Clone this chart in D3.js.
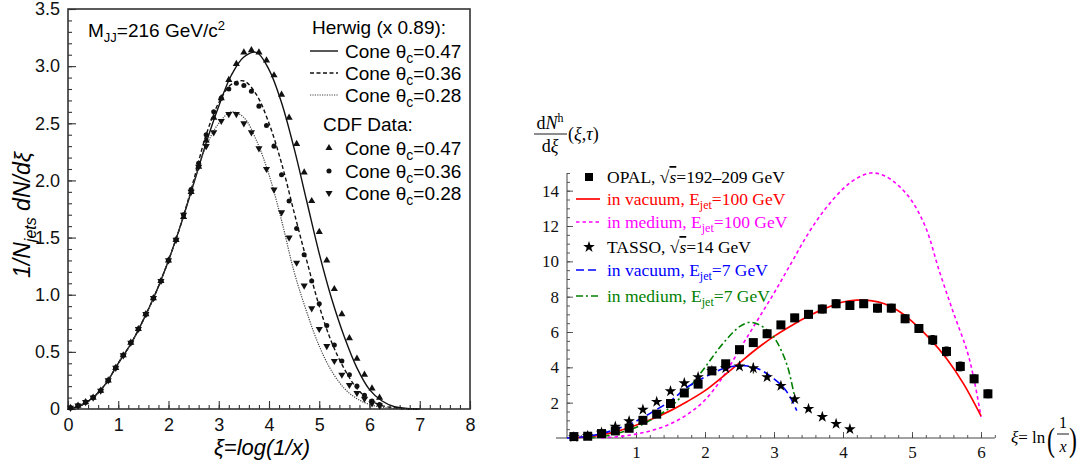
<!DOCTYPE html>
<html><head><meta charset="utf-8">
<script src="https://cdn.jsdelivr.net/npm/d3@7"></script>
<style>body{margin:0;background:#fff}svg{display:block}</style>
</head><body><svg id="c" width="1078" height="464"></svg>
<script>
// ================= LEFT PANEL DATA =================
const herwigXi = [0,0.25,0.5,0.75,1.0,1.25,1.5,1.75,2.0,2.25,2.5,2.75,3.0,3.25,3.5,3.75,4.0,4.25,4.5,4.75,5.0,5.25,5.5,5.75,6.0,6.25,6.5,6.75,7.0];
const herwig047 = [0,0.03,0.1,0.22,0.4,0.57,0.78,1.02,1.3,1.62,1.97,2.33,2.65,2.92,3.08,3.12,2.97,2.68,2.28,1.82,1.36,0.96,0.63,0.36,0.17,0.07,0.02,0.005,0];
const herwig036 = [0,0.03,0.1,0.22,0.4,0.57,0.78,1.02,1.3,1.62,2.0,2.4,2.68,2.84,2.87,2.75,2.5,2.15,1.72,1.3,0.9,0.58,0.35,0.18,0.08,0.03,0.01,0,0];
const herwig028 = [0,0.03,0.1,0.22,0.4,0.57,0.78,1.02,1.3,1.62,1.98,2.3,2.5,2.6,2.55,2.35,2.05,1.65,1.2,0.85,0.55,0.33,0.18,0.09,0.04,0.015,0.005,0,0];
const cdfXi = [0.05,0.2,0.35,0.5,0.65,0.8,0.95,1.1,1.25,1.4,1.55,1.7,1.85,2.0,2.15,2.3,2.45,2.6,2.75,2.9,3.05,3.2,3.35,3.5,3.65,3.8,3.95,4.1,4.25,4.4,4.55,4.7,4.85,5.0,5.15,5.3,5.45,5.6,5.75,5.9,6.05,6.2];
const cdf047 = [0.01,0.03,0.06,0.1,0.16,0.25,0.36,0.47,0.58,0.7,0.83,0.97,1.12,1.3,1.48,1.68,1.9,2.12,2.35,2.55,2.72,2.88,3.02,3.12,3.14,3.12,3.05,2.92,2.75,2.55,2.32,2.07,1.82,1.55,1.3,1.05,0.83,0.62,0.44,0.3,0.18,0.1];
const cdf036 = [0.01,0.03,0.06,0.1,0.16,0.25,0.36,0.47,0.58,0.7,0.83,0.97,1.12,1.3,1.48,1.7,1.92,2.15,2.4,2.6,2.72,2.8,2.85,2.83,2.78,2.65,2.48,2.3,2.05,1.82,1.58,1.35,1.12,0.92,0.73,0.56,0.42,0.3,0.2,0.12,0.07,0.04];
const cdf028 = [0.01,0.03,0.06,0.1,0.16,0.25,0.36,0.47,0.58,0.7,0.83,0.97,1.12,1.3,1.48,1.7,1.9,2.12,2.3,2.42,2.52,2.58,2.58,2.5,2.42,2.28,2.1,1.92,1.72,1.5,1.28,1.08,0.88,0.7,0.55,0.42,0.3,0.21,0.14,0.09,0.05,0.03];
const leftXTicks = [0,1,2,3,4,5,6,7,8];
const leftYTicks = [0,0.5,1,1.5,2,2.5,3,3.5];

// ================= RIGHT PANEL DATA =================
const opalXi = [0.1,0.3,0.5,0.7,0.9,1.1,1.3,1.5,1.7,1.9,2.1,2.3,2.5,2.7,2.9,3.1,3.3,3.5,3.7,3.9,4.1,4.3,4.5,4.7,4.9,5.1,5.3,5.5,5.7,5.9,6.1];
const opalVal = [0.08,0.1,0.25,0.4,0.55,1.0,1.35,1.95,2.55,3.05,3.8,4.2,5.0,5.4,5.9,6.4,6.8,7.0,7.3,7.6,7.5,7.6,7.35,7.35,6.75,6.2,5.55,4.9,4.05,3.35,2.5];
const opalErr = [0.05,0.05,0.07,0.08,0.1,0.12,0.12,0.14,0.15,0.15,0.17,0.18,0.18,0.18,0.2,0.2,0.2,0.22,0.22,0.22,0.22,0.2,0.22,0.22,0.22,0.22,0.25,0.25,0.25,0.22,0.22];
const tassoXi = [0.1,0.3,0.5,0.7,0.9,1.1,1.3,1.5,1.7,1.9,2.1,2.3,2.5,2.7,2.9,3.1,3.3,3.5,3.7,3.9,4.1];
const tassoVal = [0.05,0.12,0.3,0.65,0.95,1.6,2.05,2.65,3.1,3.45,3.8,3.95,4.05,3.95,3.45,2.95,2.2,1.65,1.2,0.8,0.5];
const tassoErr = [0.03,0.05,0.06,0.08,0.1,0.1,0.1,0.12,0.12,0.12,0.12,0.15,0.15,0.3,0.12,0.12,0.12,0.08,0.06,0.05,0.04];
const vac100Xi = [0.1,0.3,0.5,0.75,1.0,1.25,1.5,1.75,2.0,2.25,2.5,2.75,3.0,3.25,3.5,3.75,4.0,4.2,4.4,4.6,4.8,5.0,5.25,5.5,5.75,6.0];
const vac100 = [0.02,0.07,0.17,0.4,0.72,1.1,1.55,2.08,2.68,3.45,4.25,5.05,5.75,6.35,6.9,7.35,7.7,7.8,7.78,7.6,7.2,6.6,5.65,4.5,3.05,1.25];
const med100Xi = [0.5,0.75,1.0,1.25,1.5,1.75,2.0,2.25,2.5,2.75,3.0,3.25,3.5,3.75,4.0,4.2,4.4,4.6,4.8,5.0,5.2,5.4,5.6,5.8,5.9,6.0];
const med100 = [0.0,0.08,0.22,0.45,0.8,1.35,2.15,3.4,5.0,6.6,8.2,9.9,11.6,13.0,14.1,14.7,15.0,14.85,14.3,13.4,11.9,9.4,7.1,4.9,3.3,1.2];
const vac7Xi = [0.0,0.25,0.5,0.75,1.0,1.25,1.5,1.75,2.0,2.25,2.5,2.75,3.0,3.15,3.25,3.33];
const vac7 = [0.0,0.07,0.25,0.55,0.95,1.5,2.1,2.9,3.45,3.9,4.1,3.95,3.35,2.8,2.2,1.55];
const med7Xi = [0.3,0.5,0.75,1.0,1.25,1.5,1.75,2.0,2.25,2.5,2.65,2.8,2.9,3.0,3.1,3.2,3.3];
const med7 = [0.0,0.08,0.28,0.6,1.1,1.75,2.75,4.0,5.3,6.3,6.55,6.38,6.1,5.7,5.0,4.0,2.3];
const rightXTicks = [1,2,3,4,5,6];
const rightYTicks = [2,4,6,8,10,12,14];

const svg = d3.select("#c");
svg.append("rect").attr("width",1078).attr("height",464).attr("fill","#fff");
const SANS = "'Liberation Sans', Arial, Helvetica, sans-serif";
const SERIF = "'Liberation Serif', 'Times New Roman', serif";

function range(a,b,s){const r=[];for(let v=a;v<=b+1e-9;v+=s)r.push(+v.toFixed(4));return r;}
function rich(g, x, y, parts, opts){
  const t = g.append("text").attr("x",x).attr("y",y)
    .attr("font-family",opts.family).attr("font-size",opts.size)
    .attr("fill",opts.fill||"#000").attr("text-anchor",opts.anchor||"start");
  if(opts.italic) t.attr("font-style","italic");
  parts.forEach(p=>{
    const s = t.append("tspan").text(p.t);
    if(p.dy) s.attr("dy",p.dy);
    if(p.fs) s.attr("font-size",p.fs);
    if(p.it) s.attr("font-style","italic");
    if(p.deco) s.style("text-decoration",p.deco);
  });
  return t;
}

// ================= LEFT PANEL =================
const L = svg.append("g");
const xL = d3.scaleLinear([0,8],[68,470]);
const yL = d3.scaleLinear([0,3.5],[409,9]);

L.append("g").attr("transform","translate(0,409)")
  .call(d3.axisBottom(xL).tickValues(range(0,8,0.2)).tickSize(-4).tickFormat(""))
  .call(g=>g.select(".domain").remove());
L.append("g").attr("transform","translate(68,0)")
  .call(d3.axisLeft(yL).tickValues(range(0,3.5,0.1)).tickSize(-4).tickFormat(""))
  .call(g=>g.select(".domain").remove());
const xAxL = L.append("g").attr("transform","translate(0,409)")
  .call(d3.axisBottom(xL).tickValues(leftXTicks).tickSize(-8).tickPadding(9).tickFormat(d3.format("d")));
const yAxL = L.append("g").attr("transform","translate(68,0)")
  .call(d3.axisLeft(yL).tickValues(leftYTicks).tickSize(-8).tickPadding(8).tickFormat(d=>d===0?"0":d3.format(".1f")(d)));
[xAxL,yAxL].forEach(a=>{
  a.select(".domain").remove();
  a.selectAll("text").attr("font-family",SANS).attr("font-size",18).attr("fill","#111");
});
L.selectAll(".tick line").attr("stroke","#333").attr("stroke-width",1.1);
L.append("rect").attr("x",68).attr("y",9).attr("width",402).attr("height",400)
  .attr("fill","none").attr("stroke","#333").attr("stroke-width",1.6);

const lineL = (xs,ys)=>d3.line().x((d,i)=>xL(xs[i])).y(d=>yL(d)).curve(d3.curveCatmullRom)(ys);
L.append("path").attr("d",lineL(herwigXi,herwig047)).attr("fill","none").attr("stroke","#111").attr("stroke-width",1.4);
L.append("path").attr("d",lineL(herwigXi,herwig036)).attr("fill","none").attr("stroke","#111").attr("stroke-width",1.4).attr("stroke-dasharray","4,2.5");
L.append("path").attr("d",lineL(herwigXi,herwig028)).attr("fill","none").attr("stroke","#444").attr("stroke-width",1.2).attr("stroke-dasharray","1.2,1.2");

const triUp = d3.symbol().type(d3.symbolTriangle).size(22)();
const circ = d3.symbol().type(d3.symbolCircle).size(20)();
function markers(xs,ys,path,rot){
  L.append("g").selectAll("path").data(ys).join("path")
    .attr("d",path).attr("fill","#111")
    .attr("transform",(d,i)=>`translate(${xL(xs[i])},${yL(d)})${rot?" rotate(180)":""}`);
}
markers(cdfXi,cdf047,triUp,false);
markers(cdfXi,cdf036,circ,false);
markers(cdfXi,cdf028,triUp,true);

rich(L,88,37,[{t:"M"},{t:"JJ",dy:5,fs:13},{t:"=216 GeV/c",dy:-5},{t:"2",dy:-7,fs:13}],{family:SANS,size:19});
rich(L,312,34,[{t:"Herwig (x 0.89):"}],{family:SANS,size:19});
rich(L,323,131,[{t:"CDF Data:"}],{family:SANS,size:19});
const legL = [
  {y:51, kind:"solid", lab:"0.47"},
  {y:73, kind:"dash", lab:"0.36"},
  {y:95, kind:"dot", lab:"0.28"},
  {y:148, kind:"up", lab:"0.47"},
  {y:171, kind:"circ", lab:"0.36"},
  {y:193, kind:"down", lab:"0.28"}
];
legL.forEach(e=>{
  if(e.kind==="solid") L.append("line").attr("x1",310).attr("x2",338).attr("y1",e.y).attr("y2",e.y).attr("stroke","#111").attr("stroke-width",1.4);
  if(e.kind==="dash") L.append("line").attr("x1",310).attr("x2",338).attr("y1",e.y).attr("y2",e.y).attr("stroke","#111").attr("stroke-width",1.4).attr("stroke-dasharray","4,2.5");
  if(e.kind==="dot") L.append("line").attr("x1",310).attr("x2",338).attr("y1",e.y).attr("y2",e.y).attr("stroke","#444").attr("stroke-width",1.2).attr("stroke-dasharray","1.2,1.2");
  if(e.kind==="up") L.append("path").attr("d",triUp).attr("transform",`translate(329,${e.y})`).attr("fill","#111");
  if(e.kind==="circ") L.append("path").attr("d",circ).attr("transform",`translate(329,${e.y})`).attr("fill","#111");
  if(e.kind==="down") L.append("path").attr("d",triUp).attr("transform",`translate(329,${e.y}) rotate(180)`).attr("fill","#111");
  rich(L,345,e.y+7,[{t:"Cone θ"},{t:"c",dy:5,fs:14},{t:"="+e.lab,dy:-5}],{family:SANS,size:19});
});
rich(L,262,455,[{t:"ξ=log(1/x)"}],{family:SANS,size:22,italic:true,anchor:"middle"});
const yl = rich(L,0,0,[{t:"1/N"},{t:"jets",dy:6,fs:16},{t:" dN/dξ",dy:-6}],{family:SANS,size:23,italic:true,anchor:"middle"});
yl.attr("transform","translate(30,215) rotate(-90)");

// ================= RIGHT PANEL =================
const R = svg.append("g");
const xR = d3.scaleLinear([0,6],[567,981]);
const yR = d3.scaleLinear([0,15],[438,173]);

R.append("g").attr("transform","translate(0,438)")
  .call(d3.axisBottom(xR).tickValues(range(0.2,6.2,0.2)).tickSize(-3).tickFormat(""))
  .call(g=>g.select(".domain").remove());
R.append("g").attr("transform","translate(567,0)")
  .call(d3.axisLeft(yR).tickValues(range(0.5,15,0.5)).tickSize(-3).tickFormat(""))
  .call(g=>g.select(".domain").remove());
const xAxR = R.append("g").attr("transform","translate(0,438)")
  .call(d3.axisBottom(xR).tickValues(rightXTicks).tickSize(-6).tickPadding(8).tickFormat(d3.format("d")));
const yAxR = R.append("g").attr("transform","translate(567,0)")
  .call(d3.axisLeft(yR).tickValues(rightYTicks).tickSize(-6).tickPadding(8).tickFormat(d3.format("d")));
[xAxR,yAxR].forEach(a=>{
  a.select(".domain").remove();
  a.selectAll("text").attr("font-family",SERIF).attr("font-size",17).attr("fill","#111");
});
R.selectAll(".tick line").attr("stroke","#444").attr("stroke-width",0.9);
R.append("line").attr("x1",xR(-0.16)).attr("x2",xR(6.2)).attr("y1",438).attr("y2",438).attr("stroke","#444").attr("stroke-width",1);
R.append("line").attr("x1",567).attr("x2",567).attr("y1",yR(0)).attr("y2",yR(15)).attr("stroke","#444").attr("stroke-width",1);

const lineR = (xs,ys)=>d3.line().x((d,i)=>xR(xs[i])).y(d=>yR(d)).curve(d3.curveCatmullRom)(ys);
R.append("path").attr("d",lineR(med100Xi,med100)).attr("fill","none").attr("stroke","#ff00ff").attr("stroke-width",1.6).attr("stroke-dasharray","3.5,3");
R.append("path").attr("d",lineR(vac100Xi,vac100)).attr("fill","none").attr("stroke","#ff0000").attr("stroke-width",1.7);
R.append("path").attr("d",lineR(med7Xi,med7)).attr("fill","none").attr("stroke","#008000").attr("stroke-width",1.6).attr("stroke-dasharray","7,3,2,3");
R.append("path").attr("d",lineR(vac7Xi,vac7)).attr("fill","none").attr("stroke","#0000ff").attr("stroke-width",1.6).attr("stroke-dasharray","8,4");

const eb = R.append("g").attr("stroke","#000").attr("stroke-width",1);
opalVal.forEach((v,i)=>{
  const x = xR(opalXi[i]);
  eb.append("line").attr("x1",x).attr("x2",x).attr("y1",yR(v-opalErr[i])).attr("y2",yR(v+opalErr[i]));
  eb.append("line").attr("x1",x-2).attr("x2",x+2).attr("y1",yR(v-opalErr[i])).attr("y2",yR(v-opalErr[i]));
  eb.append("line").attr("x1",x-2).attr("x2",x+2).attr("y1",yR(v+opalErr[i])).attr("y2",yR(v+opalErr[i]));
});
R.append("g").selectAll("rect").data(opalVal).join("rect")
  .attr("x",(d,i)=>xR(opalXi[i])-4.5).attr("y",d=>yR(d)-4.5).attr("width",9).attr("height",9).attr("fill","#000");
tassoVal.forEach((v,i)=>{
  const x = xR(tassoXi[i]);
  eb.append("line").attr("x1",x).attr("x2",x).attr("y1",yR(v-tassoErr[i])).attr("y2",yR(v+tassoErr[i]));
});
const star = d3.symbol().type(d3.symbolStar).size(42)();
R.append("g").selectAll("path").data(tassoVal).join("path")
  .attr("d",star).attr("fill","#000")
  .attr("transform",(d,i)=>`translate(${xR(tassoXi[i])},${yR(d)})`);

// legend
const LS = 17.5;
R.append("rect").attr("x",585).attr("y",173).attr("width",8).attr("height",8).attr("fill","#000");
rich(R,607,183,[{t:"OPAL, "},{t:"√"},{t:"s",it:true,deco:"overline"},{t:"=192–209 GeV"}],{family:SERIF,size:LS});
R.append("line").attr("x1",576).attr("x2",600).attr("y1",199).attr("y2",199).attr("stroke","#ff0000").attr("stroke-width",1.7);
rich(R,607,205,[{t:"in vacuum, E"},{t:"jet",dy:4,fs:12},{t:"=100 GeV",dy:-4}],{family:SERIF,size:LS,fill:"#ff0000"});
R.append("line").attr("x1",576).attr("x2",600).attr("y1",222).attr("y2",222).attr("stroke","#ff00ff").attr("stroke-width",1.6).attr("stroke-dasharray","3.5,3");
rich(R,607,228,[{t:"in medium, E"},{t:"jet",dy:4,fs:12},{t:"=100 GeV",dy:-4}],{family:SERIF,size:LS,fill:"#ff00ff"});
R.append("path").attr("d",star).attr("transform","translate(589,247)").attr("fill","#000");
rich(R,607,253,[{t:"TASSO, "},{t:"√"},{t:"s",it:true,deco:"overline"},{t:"=14 GeV"}],{family:SERIF,size:LS});
R.append("line").attr("x1",576).attr("x2",600).attr("y1",270).attr("y2",270).attr("stroke","#0000ff").attr("stroke-width",1.6).attr("stroke-dasharray","8,4");
rich(R,607,276,[{t:"in vacuum, E"},{t:"jet",dy:4,fs:12},{t:"=7 GeV",dy:-4}],{family:SERIF,size:LS,fill:"#0000ff"});
R.append("line").attr("x1",576).attr("x2",600).attr("y1",296).attr("y2",296).attr("stroke","#008000").attr("stroke-width",1.6).attr("stroke-dasharray","7,3,2,3");
rich(R,607,302,[{t:"in medium, E"},{t:"jet",dy:4,fs:12},{t:"=7 GeV",dy:-4}],{family:SERIF,size:LS,fill:"#008000"});

// y label (fraction)
rich(R,550,129,[{t:"d"},{t:"N",it:true},{t:"h",dy:-7,fs:12}],{family:SERIF,size:18,anchor:"middle"});
R.append("line").attr("x1",534).attr("x2",567).attr("y1",134).attr("y2",134).attr("stroke","#000").attr("stroke-width",0.9);
rich(R,550,152,[{t:"d"},{t:"ξ",it:true}],{family:SERIF,size:18,anchor:"middle"});
rich(R,568,140,[{t:"("},{t:"ξ",it:true},{t:","},{t:"τ",it:true},{t:")"}],{family:SERIF,size:18});
// x label
rich(R,1011,443,[{t:"ξ",it:true},{t:"= ln"}],{family:SERIF,size:17});
R.append("text").attr("transform","translate(1047,451) scale(0.7,1)").attr("font-family",SERIF).attr("font-size",34).text("(");
R.append("text").attr("x",1063).attr("y",428).attr("font-family",SERIF).attr("font-size",16).attr("text-anchor","middle").text("1");
R.append("line").attr("x1",1057).attr("x2",1069).attr("y1",434).attr("y2",434).attr("stroke","#000").attr("stroke-width",0.9);
R.append("text").attr("x",1063).attr("y",452).attr("font-family",SERIF).attr("font-size",16).attr("font-style","italic").attr("text-anchor","middle").text("x");
R.append("text").attr("transform","translate(1069,451) scale(0.7,1)").attr("font-family",SERIF).attr("font-size",34).text(")");
</script></body></html>
